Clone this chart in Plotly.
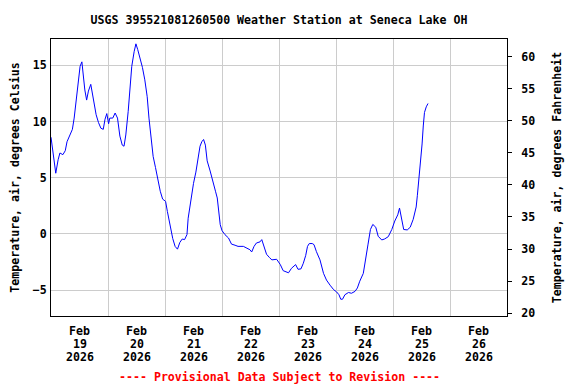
import plotly.graph_objects as go

# ---- data ----
times = [
    "2026-02-19 00:00", "2026-02-19 00:45", "2026-02-19 01:15", "2026-02-19 02:00", "2026-02-19 03:00",
    "2026-02-19 03:45", "2026-02-19 05:00", "2026-02-19 06:00", "2026-02-19 06:45", "2026-02-19 08:00",
    "2026-02-19 09:00", "2026-02-19 09:45", "2026-02-19 10:30", "2026-02-19 11:30", "2026-02-19 12:15",
    "2026-02-19 13:00", "2026-02-19 13:30", "2026-02-19 14:15", "2026-02-19 15:00", "2026-02-19 15:45",
    "2026-02-19 16:45", "2026-02-19 17:15", "2026-02-19 18:00", "2026-02-19 19:00", "2026-02-19 20:00",
    "2026-02-19 21:00", "2026-02-19 22:00", "2026-02-19 22:45", "2026-02-19 23:30", "2026-02-20 00:15",
    "2026-02-20 00:45", "2026-02-20 02:00", "2026-02-20 03:00", "2026-02-20 04:00", "2026-02-20 05:00",
    "2026-02-20 06:00", "2026-02-20 06:45", "2026-02-20 07:30", "2026-02-20 08:30", "2026-02-20 09:15",
    "2026-02-20 10:00", "2026-02-20 11:00", "2026-02-20 11:45", "2026-02-20 12:30", "2026-02-20 13:30",
    "2026-02-20 14:30", "2026-02-20 15:30", "2026-02-20 16:30", "2026-02-20 17:15", "2026-02-20 18:15",
    "2026-02-20 19:00", "2026-02-20 20:00", "2026-02-20 20:45", "2026-02-20 21:30", "2026-02-20 22:00",
    "2026-02-20 23:00", "2026-02-21 00:15", "2026-02-21 01:00", "2026-02-21 02:00", "2026-02-21 03:15",
    "2026-02-21 04:15", "2026-02-21 05:15", "2026-02-21 06:15", "2026-02-21 07:15", "2026-02-21 08:15",
    "2026-02-21 09:15", "2026-02-21 09:45", "2026-02-21 10:45", "2026-02-21 12:00", "2026-02-21 13:00",
    "2026-02-21 14:00", "2026-02-21 14:45", "2026-02-21 15:30", "2026-02-21 16:15", "2026-02-21 17:00",
    "2026-02-21 17:45", "2026-02-21 19:00", "2026-02-21 20:00", "2026-02-21 21:15", "2026-02-21 22:00",
    "2026-02-21 22:30", "2026-02-21 23:15", "2026-02-22 00:00", "2026-02-22 01:15", "2026-02-22 02:45",
    "2026-02-22 04:00", "2026-02-22 05:30", "2026-02-22 06:45", "2026-02-22 09:00", "2026-02-22 10:45",
    "2026-02-22 11:45", "2026-02-22 12:30", "2026-02-22 13:30", "2026-02-22 14:30", "2026-02-22 16:00",
    "2026-02-22 16:45", "2026-02-22 17:45", "2026-02-22 18:45", "2026-02-22 20:00", "2026-02-22 21:00",
    "2026-02-22 23:00", "2026-02-23 00:30", "2026-02-23 01:45", "2026-02-23 03:15", "2026-02-23 04:00",
    "2026-02-23 05:15", "2026-02-23 07:00", "2026-02-23 08:00", "2026-02-23 09:15", "2026-02-23 10:15",
    "2026-02-23 11:15", "2026-02-23 12:00", "2026-02-23 12:45", "2026-02-23 14:00", "2026-02-23 14:45",
    "2026-02-23 15:45", "2026-02-23 17:15", "2026-02-23 18:45", "2026-02-23 20:00", "2026-02-23 21:30",
    "2026-02-23 23:00", "2026-02-24 00:15", "2026-02-24 01:15", "2026-02-24 02:00", "2026-02-24 02:45",
    "2026-02-24 03:45", "2026-02-24 05:15", "2026-02-24 06:30", "2026-02-24 08:00", "2026-02-24 09:00",
    "2026-02-24 10:00", "2026-02-24 11:30", "2026-02-24 12:30", "2026-02-24 13:30", "2026-02-24 14:30",
    "2026-02-24 15:30", "2026-02-24 16:45", "2026-02-24 17:45", "2026-02-24 19:15", "2026-02-24 20:30",
    "2026-02-24 22:00", "2026-02-24 23:30", "2026-02-25 00:45", "2026-02-25 02:00", "2026-02-25 02:45",
    "2026-02-25 03:45", "2026-02-25 04:30", "2026-02-25 06:00", "2026-02-25 07:15", "2026-02-25 08:30",
    "2026-02-25 09:45", "2026-02-25 10:15", "2026-02-25 11:00", "2026-02-25 11:45", "2026-02-25 12:15",
    "2026-02-25 12:45", "2026-02-25 13:15", "2026-02-25 14:00", "2026-02-25 14:45",
]
temp_c = [
    8.6, 7.4, 6.2, 5.4, 6.6,
    7.2, 7.05, 7.4, 8.2, 8.8,
    9.3, 10.3, 11.8, 13.9, 14.9,
    15.3, 14.2, 12.8, 11.9, 12.7,
    13.3, 12.7, 11.5, 10.6, 9.9,
    9.4, 9.3, 10.2, 10.7, 9.8,
    10.3, 10.3, 10.75, 10.3, 8.7,
    7.9, 7.8, 8.8, 10.9, 13.0,
    14.9, 16.2, 16.9, 16.4, 15.6,
    14.8, 13.7, 12.2, 10.3, 8.5,
    6.9, 5.9, 5.1, 4.2, 3.8,
    3.1, 2.9, 2.0, 0.8, -0.4,
    -1.1, -1.35, -0.75, -0.45, -0.5,
    -0.05, 1.4, 2.9, 4.5, 5.5,
    6.7, 7.8, 8.2, 8.4, 7.9,
    6.5, 5.6, 4.7, 3.8, 3.2,
    2.0, 0.83, 0.3, -0.06, -0.36,
    -0.9, -1.0, -1.1, -1.1, -1.25,
    -1.4, -1.6, -1.1, -0.8, -0.7,
    -0.5, -1.25, -1.8, -2.1, -2.3,
    -2.25, -2.7, -3.26, -3.35, -3.45,
    -3.05, -2.72, -3.14, -3.1, -2.6,
    -1.9, -1.1, -0.85, -0.85, -0.95,
    -1.57, -2.3, -3.5, -4.1, -4.55,
    -4.95, -5.15, -5.4, -5.8, -5.8,
    -5.4, -5.2, -5.27, -5.1, -4.8,
    -4.2, -3.5, -2.0, -0.9, 0.4,
    0.85, 0.6, -0.2, -0.53, -0.44,
    -0.24, 0.4, 1.15, 1.7, 2.3,
    1.2, 0.4, 0.36, 0.6, 1.3,
    2.4, 3.4, 5.0, 6.5, 8.0,
    9.6, 10.8, 11.3, 11.6,
]
day_starts = ["2026-02-19", "2026-02-20", "2026-02-21", "2026-02-22",
              "2026-02-23", "2026-02-24", "2026-02-25", "2026-02-26", "2026-02-27"]
tick_positions = ["2026-02-19 12:00", "2026-02-20 12:00", "2026-02-21 12:00", "2026-02-22 12:00",
                  "2026-02-23 12:00", "2026-02-24 12:00", "2026-02-25 12:00", "2026-02-26 12:00"]
tick_month = ["Feb", "Feb", "Feb", "Feb", "Feb", "Feb", "Feb", "Feb"]
tick_day = ["19", "20", "21", "22", "23", "24", "25", "26"]
tick_year = ["2026", "2026", "2026", "2026", "2026", "2026", "2026", "2026"]
c_ticks = [-5, 0, 5, 10, 15]
f_ticks = [20, 25, 30, 35, 40, 45, 50, 55, 60]

temp_f = [c * 1.8 + 32 for c in temp_c]

FONT = "DejaVu Sans Mono"
BF = dict(family=FONT, size=11.6, color="black", weight="bold")
GRID = "#cccccc"

# page body has an 8px margin: figure is sized so that the plot sits where the reference has it
W, H = 568, 376
ML, MR, MT, MB = 43, 69, 31, 68
PH = H - MT - MB  # plot height in px

fig = go.Figure()
fig.add_trace(go.Scatter(x=times, y=temp_c, mode="lines",
                         line=dict(color="#0000ff", width=1), showlegend=False))
fig.add_trace(go.Scatter(x=times, y=temp_f, mode="lines", yaxis="y2",
                         line=dict(color="rgba(0,0,0,0)", width=0), showlegend=False,
                         hoverinfo="skip"))

annotations = []
for lines, dy in ((tick_month, 14.6), (tick_day, 28.4), (tick_year, 41.4)):
    for pos, txt in zip(tick_positions, lines):
        annotations.append(dict(text=txt, x=pos, xref="x", y=-dy / PH, yref="paper",
                                yanchor="middle", xanchor="center", showarrow=False, font=BF))
annotations.append(dict(
    text="---- Provisional Data Subject to Revision ----",
    xref="paper", yref="paper", x=0.5, y=-61 / PH, yanchor="middle",
    showarrow=False, font=dict(family=FONT, size=11.6, color="red", weight="bold"),
))

fig.update_layout(
    width=W, height=H,
    margin=dict(l=ML, r=MR, t=MT, b=MB, autoexpand=False),
    paper_bgcolor="white", plot_bgcolor="white",
    title=dict(text="USGS 395521081260500 Weather Station at Seneca Lake OH",
               x=0.5, xref="paper", y=1 - 11.5 / H, yref="container", yanchor="middle",
               font=BF),
    xaxis=dict(
        range=[day_starts[0], day_starts[-1]],
        tickmode="array", tickvals=tick_positions, showticklabels=False,
        showgrid=False, ticks="", zeroline=False, automargin=False,
        showline=True, linecolor="black", linewidth=1, mirror=True,
        minor=dict(tickmode="array", tickvals=day_starts, showgrid=True,
                   gridcolor=GRID, gridwidth=1, ticks=""),
    ),
    yaxis=dict(
        range=[-7.29, 17.33], tickmode="array", tickvals=c_ticks,
        tickfont=BF, showgrid=True, gridcolor=GRID, gridwidth=1, zeroline=False,
        ticks="outside", ticklen=1, tickcolor="rgba(0,0,0,0)", automargin=False,
        showline=True, linecolor="black", linewidth=1, mirror=True,
        title=dict(text="Temperature, air, degrees Celsius", font=BF, standoff=11),
    ),
    yaxis2=dict(
        overlaying="y", side="right",
        range=[19.57, 62.73], tickmode="array", tickvals=f_ticks,
        tickfont=BF, showgrid=False, zeroline=False, automargin=False,
        ticks="outside", ticklen=4, tickcolor="black", tickwidth=1,
        ticklabelstandoff=7,
        showline=True, linecolor="black", linewidth=1,
        title=dict(text="Temperature, air, degrees Fahrenheit", font=BF, standoff=18),
    ),
    annotations=annotations,
)

fig.write_html("out.html")
